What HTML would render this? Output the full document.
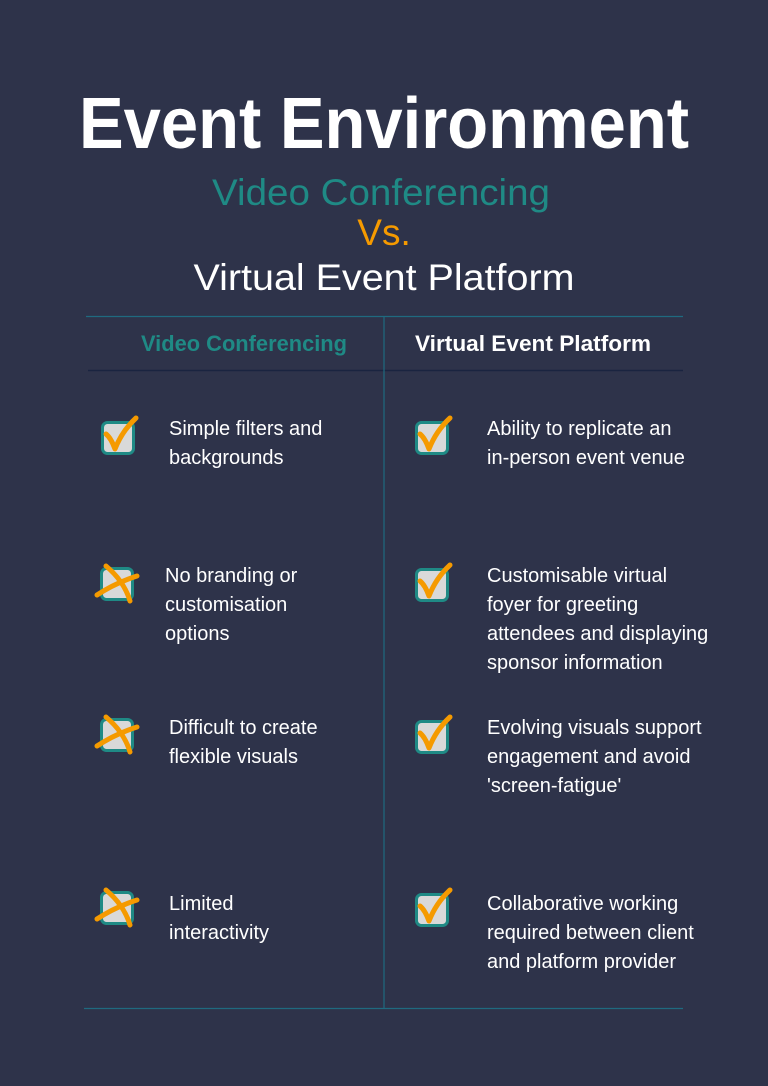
<!DOCTYPE html>
<html><head><meta charset="utf-8"><style>
html,body{margin:0;padding:0;background:#2e334a;}
svg{display:block}
text{font-family:"Liberation Sans",sans-serif;}
</style></head><body>
<svg width="768" height="1086" viewBox="0 0 768 1086" xmlns="http://www.w3.org/2000/svg">
<rect width="768" height="1086" fill="#2e334a"/>
<defs>
<g id="box"><rect x="1.5" y="1.5" width="31" height="31" rx="5" fill="#d9d9d9" stroke="#1f8a85" stroke-width="3"/></g>
<g id="chk"><use href="#box"/><path d="M5 13 Q10 17 14 28 Q21 10 35 -3" fill="none" stroke="#f59a00" stroke-width="5" stroke-linecap="round" stroke-linejoin="round"/></g>
<g id="x"><use href="#box"/><path d="M-3 28 Q15 16 37 9" fill="none" stroke="#f59a00" stroke-width="5" stroke-linecap="round"/><path d="M6 -1 Q24 14 30 34" fill="none" stroke="#f59a00" stroke-width="5" stroke-linecap="round"/></g>
</defs>
<text x="384" y="148" text-anchor="middle" font-size="72" font-weight="bold" fill="#fff" textLength="610" lengthAdjust="spacingAndGlyphs">Event Environment</text>
<text x="381" y="205" text-anchor="middle" font-size="37" fill="#1f8a85" textLength="338" lengthAdjust="spacingAndGlyphs">Video Conferencing</text>
<text x="384" y="245" text-anchor="middle" font-size="37" fill="#f59a00">Vs.</text>
<text x="384" y="290" text-anchor="middle" font-size="37" fill="#fff" textLength="381" lengthAdjust="spacingAndGlyphs">Virtual Event Platform</text>
<line x1="86" y1="316.5" x2="683" y2="316.5" stroke="#1f6a80" stroke-width="1.2"/>
<line x1="88" y1="370.5" x2="683" y2="370.5" stroke="#1a2440" stroke-width="1.5"/>
<line x1="384" y1="316" x2="384" y2="1008" stroke="#1f6a80" stroke-width="1.2"/>
<line x1="84" y1="1008.5" x2="683" y2="1008.5" stroke="#1f6a80" stroke-width="1.2"/>
<text x="141" y="351" font-size="22" font-weight="bold" fill="#1f8a85" textLength="206" lengthAdjust="spacingAndGlyphs">Video Conferencing</text>
<text x="415" y="351" font-size="22" font-weight="bold" fill="#fff" textLength="236" lengthAdjust="spacingAndGlyphs">Virtual Event Platform</text>
<g font-size="20" fill="#fff">
<text x="169" y="435">Simple filters and</text><text x="169" y="464">backgrounds</text>
<text x="165" y="582">No branding or</text><text x="165" y="611">customisation</text><text x="165" y="640">options</text>
<text x="169" y="734">Difficult to create</text><text x="169" y="763">flexible visuals</text>
<text x="169" y="910">Limited</text><text x="169" y="939">interactivity</text>
<text x="487" y="435">Ability to replicate an</text><text x="487" y="464">in-person event venue</text>
<text x="487" y="582">Customisable virtual</text><text x="487" y="611">foyer for greeting</text><text x="487" y="640">attendees and displaying</text><text x="487" y="669">sponsor information</text>
<text x="487" y="734">Evolving visuals support</text><text x="487" y="763">engagement and avoid</text><text x="487" y="792">'screen-fatigue'</text>
<text x="487" y="910">Collaborative working</text><text x="487" y="939">required between client</text><text x="487" y="968">and platform provider</text>
</g>
<use href="#chk" x="101" y="421"/>
<use href="#x" x="100" y="567"/>
<use href="#x" x="100" y="718"/>
<use href="#x" x="100" y="891"/>
<use href="#chk" x="415" y="421"/>
<use href="#chk" x="415" y="568"/>
<use href="#chk" x="415" y="720"/>
<use href="#chk" x="415" y="893"/>
</svg>
</body></html>
